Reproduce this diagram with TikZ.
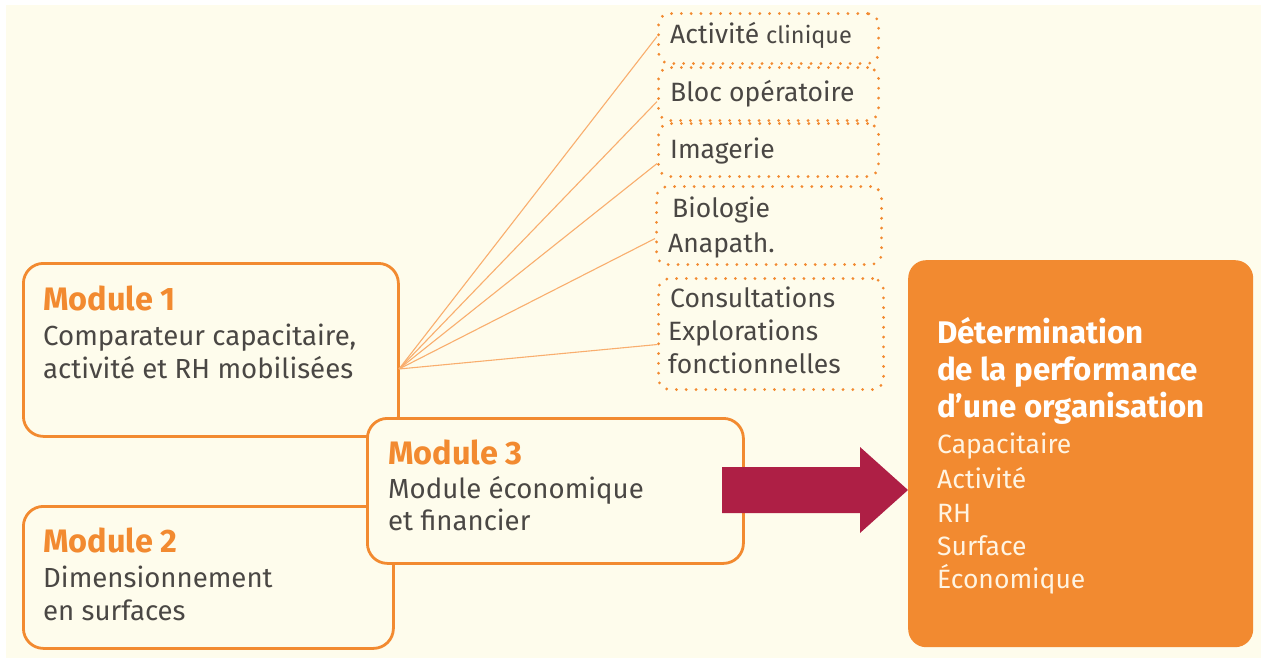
\documentclass[tikz,border=0pt]{standalone}
\usepackage{fontspec}
\setmainfont{Fira Sans}
\definecolor{cream}{HTML}{FEFCEC}
\definecolor{modorange}{HTML}{F28A30}
\definecolor{fanorange}{HTML}{F9AE6E}
\definecolor{crimson}{HTML}{AE1F45}
\definecolor{bodytext}{HTML}{4A4744}
\definecolor{boxtext}{HTML}{FFF4E2}
\tikzset{
  modbox/.style={draw=modorange, line width=2.8pt, rounded corners=20pt, fill=cream, inner sep=0pt},
  dotbox/.style={draw=modorange, line width=3.1pt, dash pattern=on 0pt off 9.8pt, line cap=round,
                 rounded corners=11pt, inner sep=0pt},
  fan/.style={draw=fanorange, line width=1.1pt},
  modtitle/.style={anchor=base west, inner sep=0pt, text=modorange, font=\fontsize{32.5}{32.5}\selectfont\bfseries},
  bodyline/.style={anchor=base west, inner sep=0pt, text=bodytext, font=\fontsize{26.5}{26.5}\selectfont},
  modline/.style={bodyline, font=\fontsize{27.6}{27.6}\selectfont},
  restitle/.style={anchor=base west, inner sep=0pt, text=white, font=\fontsize{31.3}{31.3}\selectfont\bfseries},
  resline/.style={anchor=base west, inner sep=0pt, text=boxtext, font=\fontsize{26.5}{26.5}\selectfont},
}
\begin{document}
\begin{tikzpicture}[x=1pt,y=-1pt]
\useasboundingbox (0,0) rectangle (1261,658);
\fill[white] (0,0) rectangle (1261,658);
\fill[cream] (6,5) rectangle (1261,658);

% module boxes (module 3 overlaps the other two)
\node[modbox, minimum width=375pt, minimum height=173pt, anchor=north west] (m1) at (22,262) {};
\node[modbox, minimum width=370pt, minimum height=142pt, anchor=north west] (m2) at (22,505) {};
\node[modbox, minimum width=376pt, minimum height=145pt, anchor=north west] (m3) at (366,417) {};

\node[modtitle] (m1a) at (43,310) {Module 1};
\node[modline] (m1b) at (43,345) {Comparateur capacitaire,};
\node[modline] (m1c) at (43,378) {activité et RH mobilisées};

\node[modtitle] (m2a) at (43,552) {Module 2};
\node[modline] (m2b) at (43,587) {Dimensionnement};
\node[modline] (m2c) at (43,620) {en surfaces};

\node[modtitle] (m3a) at (388,464) {Module 3};
\node[modline] (m3b) at (388,498) {Module économique};
\node[modline] (m3c) at (388,530) {et financier};

% dotted service boxes
\node[dotbox, minimum width=220pt, minimum height=50pt, anchor=north west] (d1) at (657,12) {};
\node[dotbox, minimum width=220pt, minimum height=53pt, anchor=north west] (d2) at (657,66) {};
\node[dotbox, minimum width=220pt, minimum height=53pt, anchor=north west] (d3) at (657,122) {};
\node[dotbox, minimum width=225pt, minimum height=78pt, anchor=north west] (d4) at (655,185) {};
\node[dotbox, minimum width=225pt, minimum height=111pt, anchor=north west] (d5) at (657,277) {};

\node[bodyline] (d1a) at (670,44) {Activité {\fontsize{23.5}{23.5}\selectfont clinique}};
\node[bodyline] (d2a) at (670,102) {Bloc opératoire};
\node[bodyline] (d3a) at (670,158) {Imagerie};
\node[bodyline] (d4a) at (672,217) {Biologie};
\node[bodyline] (d4b) at (668,252) {Anapath.};
\node[bodyline] (d5a) at (670,307) {Consultations};
\node[bodyline] (d5b) at (668,340) {Explorations};
\node[bodyline] (d5c) at (668,373) {fonctionnelles};

% fan of connectors from module 1
\coordinate (fan) at (399,369);
\draw[fan] (fan) -- ([yshift=2pt]d1.west);
\draw[fan] (fan) -- ([yshift=-7.5pt]d2.west);
\draw[fan] (fan) -- ([yshift=-13.5pt]d3.west);
\draw[fan] (fan) -- ([yshift=-13pt]d4.west);
\draw[fan] (fan) -- ([yshift=-10.5pt]d5.west);

% result box
\node[fill=modorange, rounded corners=18pt, minimum width=345pt, minimum height=387pt,
      anchor=north west, inner sep=0pt] (res) at (908,260) {};
\node[restitle] (r1) at (937,343) {Détermination};
\node[restitle] (r2) at (937,380) {de la performance};
\node[restitle] (r3) at (937,417) {d’une organisation};
\node[resline] (r4) at (937,453) {Capacitaire};
\node[resline] (r5) at (937,488) {Activité};
\node[resline] (r6) at (937,522) {RH};
\node[resline] (r7) at (937,555) {Surface};
\node[resline] (r8) at (937,588) {Économique};

% block arrow from module 3 to the result box
\coordinate (tip) at (res.west |- 0,490);
\fill[crimson] (722,467) -- (860,467) -- (860,447) -- (tip) -- (860,533) -- (860,513) -- (722,513) -- cycle;
\end{tikzpicture}
\end{document}
